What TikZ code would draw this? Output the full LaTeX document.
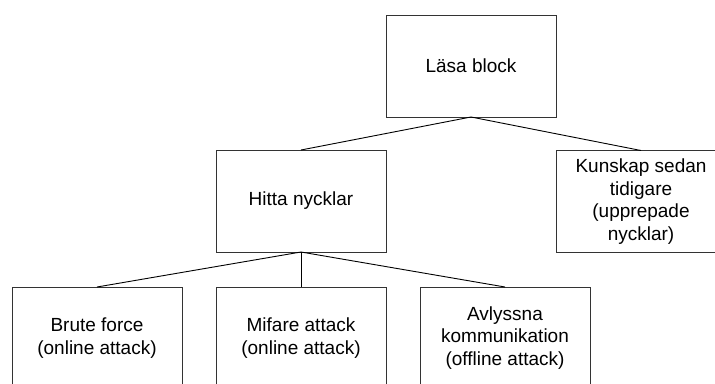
\documentclass[tikz,border=0pt]{standalone}
\usepackage{fontspec}
\setmainfont{Liberation Sans}
\begin{document}
\begin{tikzpicture}[x=1pt,y=1pt,
  box/.style={draw=black!80, line width=0.9pt, rectangle, minimum width=170pt,
    minimum height=102pt, inner sep=0pt, outer sep=0pt, align=center,
    font=\fontsize{19}{22.7}\selectfont},
  link/.style={draw=black, line width=0.9pt}]
\useasboundingbox (0,0) rectangle (715,-383);
\clip (0,0) rectangle (715,-383);
\fill[white] (0,0) rectangle (715,-383);

% top level
\node[box] (lasa) at (471,-66) {Läsa block};

% second level
\node[box] (hitta) at (301,-201) {Hitta nycklar};
\node[box] (kunskap) at (641,-201.5) {Kunskap sedan\\tidigare\\(upprepade\\nycklar)};

% third level
\node[box] (brute) at (97,-338) {Brute force\\(online attack)};
\node[box] (mifare) at (301,-338) {Mifare attack\\(online attack)};
\node[box] (avlyssna) at (505,-338) {Avlyssna\\kommunikation\\(offline attack)};

% tree edges
\draw[link] (lasa.south) -- (hitta.north);
\draw[link] (lasa.south) -- (kunskap.north);
\draw[link] (hitta.south) -- (brute.north);
\draw[link] (hitta.south) -- (mifare.north);
\draw[link] (hitta.south) -- (avlyssna.north);
\end{tikzpicture}
\end{document}
